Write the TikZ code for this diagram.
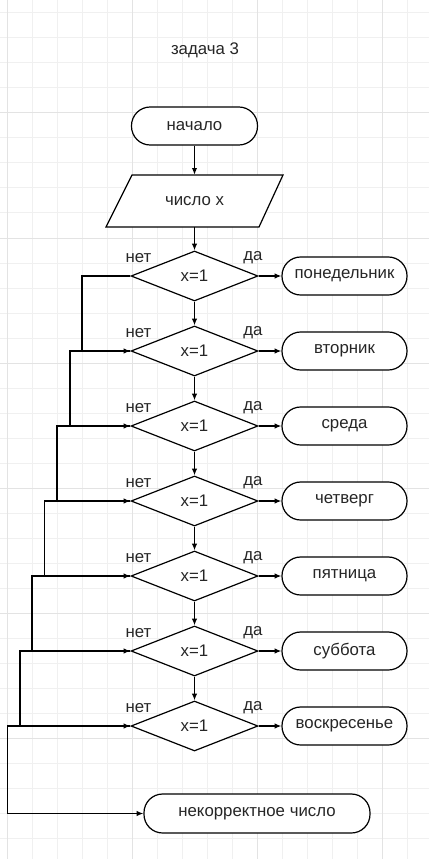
\documentclass[tikz,border=0pt]{standalone}
\usepackage{fontspec}
\setmainfont{Liberation Sans}
\usetikzlibrary{shapes.geometric,arrows.meta}
\begin{document}
\begin{tikzpicture}[x=0.75pt,y=-0.75pt,
  every node/.style={font=\fontsize{12.6}{15}\selectfont, text=black!85},
  term/.style={draw=black, line width=0.9pt, fill=white, rectangle, rounded corners=14pt,
    minimum height=38*0.75pt, inner sep=0pt},
  dec/.style={draw=black, line width=0.9pt, fill=white, diamond, inner sep=0pt,
    minimum width=127*0.75pt, minimum height=50*0.75pt},
  arr/.style={draw=black, line width=0.9pt, -{Latex[length=5pt,width=4pt]}},
  gridminor/.style={draw=black!6, line width=0.75pt},
  gridmajor/.style={draw=black!11, line width=0.75pt}
]
\useasboundingbox (0,0) rectangle (429,859);
\fill[white] (0,0) rectangle (429,859);
% grid
\foreach \x in {7,32,...,432} \draw[gridminor] (\x,0) -- (\x,859);
\foreach \y in {13,38,...,859} \draw[gridminor] (0,\y) -- (429,\y);
\foreach \x in {7,132,257,382} \draw[gridmajor] (\x,0) -- (\x,859);
\foreach \y in {113,238,363,488,613,738} \draw[gridmajor] (0,\y) -- (429,\y);

\node (title) at (205,50) {задача 3};
\node[term, minimum width=126*0.75pt] (start) at (194.5,126) {начало};
\draw[line width=0.9pt, fill=white] (106,227) -- (132,175) -- (283,175) -- (259,227) -- cycle;
\node[minimum width=151*0.75pt, minimum height=52*0.75pt, inner sep=0pt] (para) at (194.5,201) {число x};

\foreach \i/\txt in {1/понедельник,2/вторник,3/среда,4/четверг,5/пятница,6/суббота,7/воскресенье}{
  \pgfmathsetmacro\yy{276+75*(\i-1)}
  \node[dec] (d\i) at (194.5,\yy) {x=1};
  \node[term, minimum width=125*0.75pt] (t\i) at (344.5,\yy) {\txt};
  \node (no\i) at (138.5,\yy-18) {нет};
  \node (yes\i) at (253,\yy-18) {да};
  \draw[arr] (d\i.east) -- (t\i.west);
}
\node[term, minimum width=226*0.75pt, minimum height=39*0.75pt] (fin) at (257,813.5) {некорректное число};

\coordinate (k1) at (82,0);
\coordinate (k2) at (70,0);
\coordinate (k3) at (57,0);
\coordinate (k4) at (44.5,0);
\coordinate (k5) at (32,0);
\coordinate (k6) at (20,0);
\coordinate (k7) at (7.5,0);

\draw[arr] (start.south) -- (para.north);
\draw[arr] (para.south) -- (d1.north);
\foreach \i/\j in {1/2,2/3,3/4,4/5,5/6,6/7}{
  \draw[arr] (d\i.south) -- (d\j.north);
  \draw[arr] (d\i.west) -- (d\i.west -| k\i) |- (d\j.west);
}
\draw[arr] (d7.west) -- (d7.west -| k7) |- (fin.west);
\end{tikzpicture}
\end{document}
